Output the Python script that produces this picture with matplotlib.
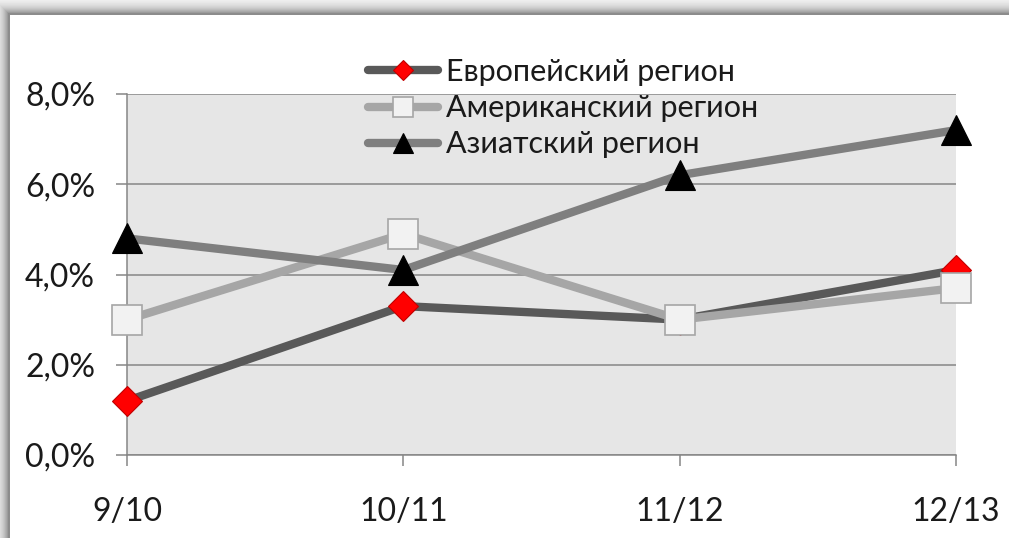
import numpy as np
import matplotlib
matplotlib.use("Agg")
import matplotlib.pyplot as plt
from matplotlib.lines import Line2D
from matplotlib.ticker import FixedLocator, FuncFormatter

plt.rcParams["font.family"] = ["Lato", "DejaVu Sans"]

# Growth by region, percent
seasons = ["9/10", "10/11", "11/12", "12/13"]
europe = [1.2, 3.3, 3.0, 4.1]
america = [3.0, 4.9, 3.0, 3.7]
asia = [4.8, 4.1, 6.2, 7.2]
series_names = ["Европейский регион", "Американский регион", "Азиатский регион"]
y_ticks = [0, 2, 4, 6, 8]

W, H, DPI = 1009, 538, 100
fig = plt.figure(figsize=(W / DPI, H / DPI), dpi=DPI)

# Chart frame with soft outer shadow on the top and left edges
bg = fig.add_axes([0, 0, 1, 1])
bg.set_axis_off()
yy, xx = np.mgrid[0:H, 0:W]
fx, fy = 8, 13
d = np.maximum(np.maximum(fx - xx, 0), np.maximum(fy - yy, 0)).astype(float)
img = np.where(d > 0, 1 - 0.45 * np.exp(-d / 7.0), 1.0)
border = ((xx >= fx) & (xx <= fx + 1) & (yy >= fy)) | ((yy >= fy) & (yy <= fy + 1) & (xx >= fx))
img[border] = 0.55
bg.imshow(img, cmap="gray", vmin=0, vmax=1, extent=(0, W, H, 0), aspect="auto",
          interpolation="bilinear")
bg.set_xlim(0, W)
bg.set_ylim(H, 0)

# Plot area
x0, x1, y0, y1 = 127, 956, 455, 94
ax = fig.add_axes([x0 / W, 1 - y0 / H, (x1 - x0) / W, (y0 - y1) / H])
ax.set_facecolor("#E6E6E6")
ax.set_xlim(0, len(seasons) - 1)
ax.set_ylim(0, 8)

grid_c = "#868686"
ax.yaxis.set_major_locator(FixedLocator(y_ticks))
ax.yaxis.set_major_formatter(FuncFormatter(lambda v, p: f"{v:.1f}%".replace(".", ",")))
ax.set_xticks(range(len(seasons)))
ax.set_xticklabels(seasons)
ax.yaxis.grid(True, color=grid_c, lw=1.1)
ax.set_axisbelow(True)
for s in ("top", "right"):
    ax.spines[s].set_visible(False)
for s in ("left", "bottom"):
    ax.spines[s].set_color(grid_c)
    ax.spines[s].set_linewidth(1.1)
ax.tick_params(axis="y", direction="out", length=8, width=1.1, color=grid_c,
               labelsize=23, pad=15, labelcolor="#1a1a1a")
ax.tick_params(axis="x", direction="out", length=8, width=1.1, color=grid_c,
               labelsize=23, pad=22, labelcolor="#1a1a1a")

x = np.arange(len(seasons))
styles = [
    dict(color="#595959", marker="D", ms=15, mfc="#FF0000", mec="#C00000", mew=0.8),
    dict(color="#A6A6A6", marker="s", ms=21.5, mfc="#F2F2F2", mec="#A6A6A6", mew=1.2),
    dict(color="#7F7F7F", marker="^", ms=21.5, mfc="#000000", mec="#000000", mew=0.8),
]
for i, (vals, st) in enumerate(zip([europe, america, asia], styles)):
    ax.plot(x, vals, lw=6, solid_capstyle="round", solid_joinstyle="round",
            clip_on=False, zorder=3 + i, **st)

# Legend with smaller markers over the top of the plot
handles = []
for st in styles:
    h = dict(st)
    h["ms"] = st["ms"] * 0.68
    handles.append(Line2D([], [], lw=6, solid_capstyle="round", **h))
leg = fig.legend(handles, series_names, loc="upper left",
                 bbox_to_anchor=(368 / W, 1 - 58 / H), frameon=False,
                 fontsize=22, handlelength=2.3, handletextpad=0.25,
                 labelspacing=0.27, borderpad=0, borderaxespad=0)
for t in leg.get_texts():
    t.set_color("#1a1a1a")

fig.savefig("out.png", dpi=DPI)
